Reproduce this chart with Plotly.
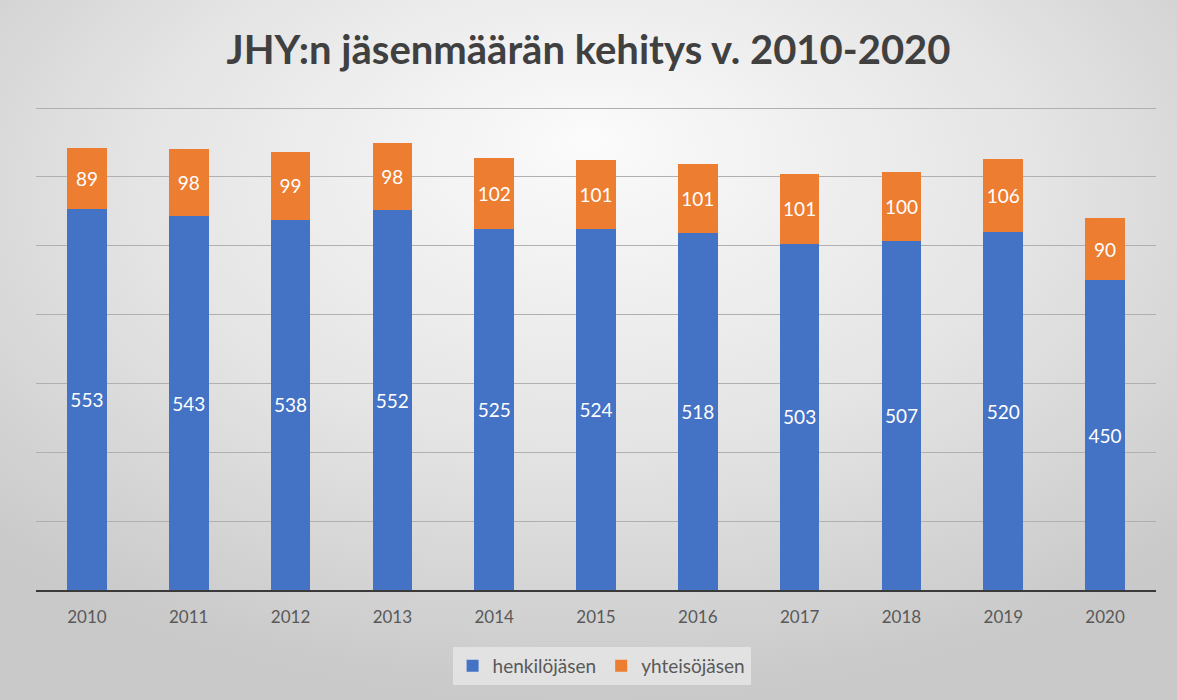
import base64
import plotly.graph_objects as go

years = ["2010", "2011", "2012", "2013", "2014", "2015", "2016", "2017", "2018", "2019", "2020"]
henkilojasen = [553, 543, 538, 552, 525, 524, 518, 503, 507, 520, 450]
yhteisojasen = [89, 98, 99, 98, 102, 101, 101, 101, 100, 106, 90]

FONT = "Lato"

svg = """<svg xmlns='http://www.w3.org/2000/svg' width='1177' height='700'>
<defs><radialGradient id='g' cx='50%' cy='30%' r='70%' fx='50%' fy='20%'>
<stop offset='0%' stop-color='#fbfbfb'/>
<stop offset='55%' stop-color='#e4e4e4'/>
<stop offset='100%' stop-color='#c9c9c9'/>
</radialGradient></defs>
<rect width='1177' height='700' fill='url(#g)'/>
</svg>"""
bg_src = "data:image/svg+xml;base64," + base64.b64encode(svg.encode()).decode()

PLOT_H = 486
fig = go.Figure()
fig.add_trace(go.Bar(
    x=years, y=henkilojasen, name="henkilöjäsen",
    marker=dict(color="#4472C4", line=dict(width=0)),
    text=henkilojasen, textposition="inside", insidetextanchor="middle", textangle=0,
    textfont=dict(color="white", size=19, family=FONT),
    constraintext="none",
))
fig.add_trace(go.Bar(
    x=years, y=yhteisojasen, name="yhteisöjäsen",
    marker=dict(color="#ED7D31", line=dict(width=0)),
    text=yhteisojasen, textposition="inside", insidetextanchor="middle", textangle=0,
    textfont=dict(color="white", size=19, family=FONT),
    constraintext="none",
))

fig.update_layout(
    width=1177, height=700,
    barmode="stack", bargap=0.61,
    margin=dict(l=36, r=21, t=104, b=110),
    paper_bgcolor="#e2e2e2",
    plot_bgcolor="rgba(0,0,0,0)",
    images=[dict(source=bg_src, xref="paper", yref="paper", x=-36/1120, y=1 + 104/PLOT_H,
                 sizex=1177/1120, sizey=700/PLOT_H, xanchor="left", yanchor="top",
                 sizing="stretch", layer="below")],
    title=dict(text="<b>JHY:n jäsenmäärän kehitys v. 2010-2020</b>", x=0.5, xanchor="center",
               y=0.928, yanchor="middle",
               font=dict(family=FONT, size=40, color="#404040")),
    xaxis=dict(showgrid=False, showline=True, linecolor="#3a3a3a", linewidth=2,
               tickfont=dict(family=FONT, size=17, color="#595959"),
               ticks="", ticklabelstandoff=11),
    yaxis=dict(range=[0, 706], dtick=100, showgrid=True, gridcolor="#b0b0b0", gridwidth=1,
               showticklabels=False, zeroline=False, showline=False),
    legend=dict(orientation="h", x=0.505, xanchor="center", y=-76/PLOT_H, yanchor="middle",
                font=dict(family=FONT, size=19, color="#595959"), itemwidth=30,
                bgcolor="rgba(240,240,240,0.6)", traceorder="normal"),
    showlegend=True,
)

fig.write_html("out.html", config={"displayModeBar": False},
               post_script="document.body.style.margin='0';document.body.style.padding='0';")
